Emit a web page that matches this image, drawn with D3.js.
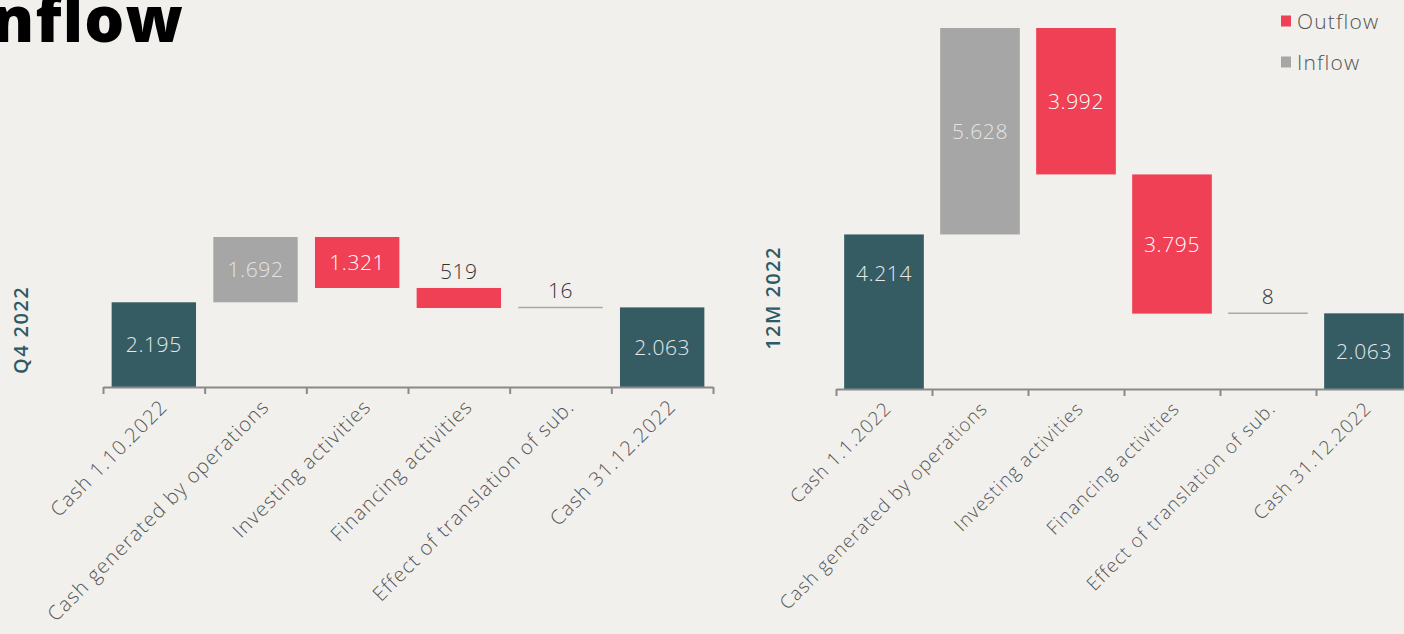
<!DOCTYPE html>
<html><head><meta charset="utf-8">
<script src="https://cdn.jsdelivr.net/npm/d3@7"></script>
<style>
html,body{margin:0;padding:0;background:#f1f0ec;overflow:hidden;}
svg{display:block;}
</style></head>
<body>
<svg id="c" width="1404" height="634"></svg>
<script>
const categoriesQ4 = ["Cash 1.10.2022","Cash generated by operations","Investing activities","Financing activities","Effect of translation of sub.","Cash 31.12.2022"];
const valuesQ4 = [2195, 1692, -1321, -519, 16, 2063];
const categories12M = ["Cash 1.1.2022","Cash generated by operations","Investing activities","Financing activities","Effect of translation of sub.","Cash 31.12.2022"];
const values12M = [4214, 5628, -3992, -3795, 8, 2063];
const kinds = ["total","inflow","outflow","outflow","line","total"];
const legendLabels = ["Outflow","Inflow"];
const panelTitles = ["Q4 2022","12M 2022"];
const pageTitle = "nflow";

const colors = {total:"#365c63", inflow:"#a6a6a6", outflow:"#ef4055", line:"#a8a8a8"};
const FONT = "'Open Sans', 'Lato', sans-serif";
const svg = d3.select("#c");

svg.append("text").attr("x",-8).attr("y",42)
  .attr("font-family","'Open Sans', sans-serif").attr("font-weight",800)
  .attr("font-size",63).attr("fill","#000").attr("letter-spacing","1.2").text(pageTitle);

function fmt(v){
  const a=Math.abs(v);
  if(a>=1000){ const s=String(a); return s.slice(0,s.length-3)+"."+s.slice(-3); }
  return String(a);
}

function panel(cats, vals, o){
  const g = svg.append("g");
  let run=0; const rows=[];
  vals.forEach((v,i)=>{
    let y0,y1;
    if(kinds[i]==="total"){ y0=0; y1=v; run=v; }
    else { y0=run; y1=run+v; run=y1; }
    rows.push({cat:cats[i], v, kind:kinds[i], lo:Math.min(y0,y1), hi:Math.max(y0,y1)});
  });
  const maxV = d3.max(rows,d=>d.hi);
  const x = d3.scaleBand().domain(cats).range([o.x0,o.x1]).paddingInner(0.17).paddingOuter(0.085);
  const xi = d3.scaleLinear().domain([0,cats.length]).range([o.x0,o.x1]);
  const y = d3.scaleLinear().domain([0,maxV]).range([o.base,o.top]);

  rows.forEach((d,i)=>{
    if(d.kind==="line"){
      g.append("line").attr("x1",x(d.cat)).attr("x2",x(d.cat)+x.bandwidth())
        .attr("y1",y(d.hi)).attr("y2",y(d.hi)).attr("stroke",colors.line).attr("stroke-width",1.5);
    } else {
      g.append("rect").attr("x",x(d.cat)).attr("width",x.bandwidth())
        .attr("y",y(d.hi)).attr("height",y(d.lo)-y(d.hi)).attr("fill",colors[d.kind]);
    }
    const h = y(d.lo)-y(d.hi);
    const cx = x(d.cat)+x.bandwidth()/2;
    if(h>40){
      const frac = (i===0 && o.firstFrac!=null) ? o.firstFrac : 0.5;
      const cy = y(d.hi)+h*frac;
      g.append("text").attr("x",cx).attr("y",cy).attr("dy","0.36em").attr("text-anchor","middle")
        .attr("font-family",FONT).attr("font-weight",300).attr("font-size",21).attr("letter-spacing","0.6")
        .attr("fill", d.kind==="outflow" ? "#ffffff" : (d.kind==="inflow" ? "#e4e4e4" : "#e6e9ea"))
        .text(fmt(d.v));
    } else {
      g.append("text").attr("x",cx).attr("y",y(d.hi)-9).attr("text-anchor","middle")
        .attr("font-family",FONT).attr("font-weight",300).attr("font-size",21).attr("letter-spacing","0.6").attr("fill","#333")
        .text(fmt(d.v));
    }
  });

  const ax = g.append("g").attr("transform",`translate(0,${o.base})`)
    .call(d3.axisBottom(xi).tickValues(d3.range(cats.length+1)).tickFormat("").tickSizeInner(7).tickSizeOuter(0));
  ax.select(".domain").attr("stroke","#8a8a8a").attr("stroke-width",2.2);
  ax.selectAll(".tick line").attr("stroke","#8a8a8a").attr("stroke-width",2);

  cats.forEach(c=>{
    const cx = x(c)+x.bandwidth()/2 + o.lblDx;
    g.append("text").attr("transform",`translate(${cx},${o.base+16}) rotate(-45)`)
      .attr("text-anchor","end").attr("dy","0.35em")
      .attr("font-family",FONT).attr("font-weight",300).attr("font-size",o.lblSize).attr("letter-spacing",o.lblLs).attr("fill","#555")
      .text(c);
  });

  g.append("text").attr("transform",`translate(${o.tx},${o.ty}) rotate(-90)`)
    .attr("text-anchor","middle").attr("dy","0.35em")
    .attr("font-family",FONT).attr("font-weight",600).attr("font-size",20).attr("fill","#2f5a63")
    .attr("letter-spacing","1.4").text(o.title);
}

panel(categoriesQ4, valuesQ4, {x0:103, x1:713, base:387, top:237, tx:21, ty:330, title:panelTitles[0], lblDx:10, lblSize:20, lblLs:1.2});
panel(categories12M, values12M, {x0:836, x1:1412, base:389, top:28, tx:773, ty:298, title:panelTitles[1], firstFrac:0.25, lblDx:4, lblSize:18.8, lblLs:1.1});

const lg = svg.append("g");
[[legendLabels[0],colors.outflow],[legendLabels[1],colors.inflow]].forEach((d,i)=>{
  const yy = 21 + i*41;
  lg.append("rect").attr("x",1281).attr("y",yy-5.5).attr("width",10).attr("height",11).attr("fill",d[1]);
  lg.append("text").attr("x",1297).attr("y",yy).attr("dy","0.36em")
    .attr("font-family",FONT).attr("font-weight",300).attr("font-size",21).attr("letter-spacing","1.2").attr("fill","#555").text(d[0]);
});
</script>
</body></html>
